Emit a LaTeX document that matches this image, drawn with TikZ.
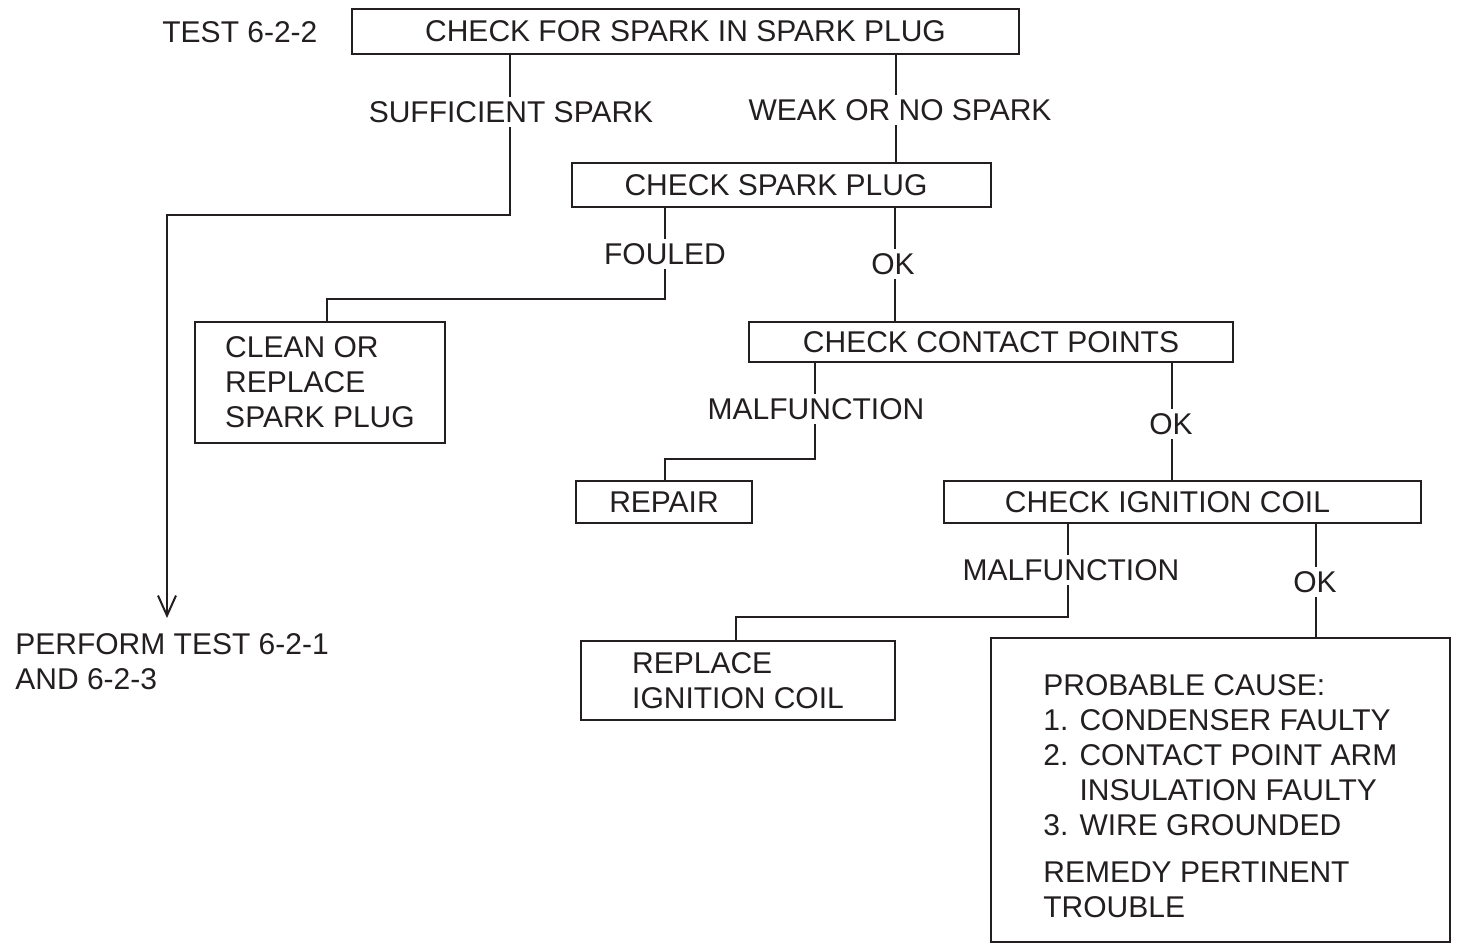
\documentclass[tikz,border=0pt]{standalone}
\usepackage{fontspec}
\setmainfont{Liberation Sans}
\usetikzlibrary{arrows.meta,calc}
\definecolor{ink}{HTML}{231F20}
\begin{document}
\begin{tikzpicture}[x=0.5pt,y=-0.5pt,
  every node/.style={font=\fontsize{15}{17.5}\selectfont, text=ink},
  box/.style={draw=ink, line width=1pt, inner sep=0pt, align=left},
  lbl/.style={fill=white, inner sep=2pt},
  conn/.style={draw=ink, line width=1pt},
  txt/.style={inner sep=0pt, align=left}]
\useasboundingbox[fill=white] (0,0) rectangle (1458,945);

% boxes
\node[box, minimum width=333.5pt, minimum height=22.5pt] (b1) at (685.5,31.5) {CHECK FOR SPARK IN SPARK PLUG};
\node[box, minimum width=209.5pt, minimum height=22pt] (b2) at (781.5,185) {CHECK SPARK PLUG\hspace{5.5pt}};
\node[box, minimum width=125pt, minimum height=60.5pt] (b3) at (320,382.5) {CLEAN OR\\REPLACE\\SPARK PLUG};
\node[box, minimum width=242pt, minimum height=20pt] (b4) at (991,342) {CHECK CONTACT POINTS};
\node[box, minimum width=88pt, minimum height=21pt] (b5) at (664,502) {REPAIR};
\node[box, minimum width=238.5pt, minimum height=21pt] (b6) at (1182.5,502) {CHECK IGNITION COIL\hspace{15pt}};
\node[box, minimum width=157pt, minimum height=39.5pt] (b7) at (738,680.5) {REPLACE\\IGNITION COIL};
\node[box, minimum width=229.5pt, minimum height=152pt] (b8) at (1220.5,790) {};
\node[txt, anchor=north west] (t8) at (1043,674) {PROBABLE CAUSE:\\
1. CONDENSER FAULTY\\
2. CONTACT POINT ARM\\
\phantom{2. }INSULATION FAULTY\\
3. WIRE GROUNDED\\[6pt]
REMEDY PERTINENT\\
TROUBLE};

% free texts
\node[txt, anchor=west] (test) at (162,32) {TEST 6-2-2};
\node[txt, anchor=north west] (perf) at (15,633) {PERFORM TEST 6-2-1\\AND 6-2-3};

% bend points
\coordinate (p1a) at (510,215);
\coordinate (p1b) at (167,215);
\coordinate (p1c) at (167,618);
\coordinate (p3a) at (665,299);
\coordinate (p3b) at (327,299);
\coordinate (p5a) at (815,459);
\coordinate (p5b) at (665,459);
\coordinate (p7a) at (1068,617);
\coordinate (p7b) at (736,617);

% connectors
\draw[conn, -{Straight Barb[length=10pt,width=9pt,line width=1pt]}] (b1.south -| p1a) -- (p1a) -- (p1b) -- (p1c);
\draw[conn] (b1.south -| 896,0) -- (b2.north -| 896,0);
\draw[conn] (b2.south -| p3a) -- (p3a) -- (p3b) -- (b3.north -| p3b);
\draw[conn] (b2.south -| 895,0) -- (b4.north -| 895,0);
\draw[conn] (b4.south -| p5a) -- (p5a) -- (p5b) -- (b5.north -| p5b);
\draw[conn] (b4.south -| 1172,0) -- (b6.north -| 1172,0);
\draw[conn] (b6.south -| p7a) -- (p7a) -- (p7b) -- (b7.north -| p7b);
\draw[conn] (b6.south -| 1316,0) -- (b8.north -| 1316,0);

% labels
\node[lbl] (l1) at (511,112) {SUFFICIENT SPARK};
\node[lbl] (l2) at (900,110) {WEAK OR NO SPARK};
\node[lbl] (l3) at (665,254) {FOULED};
\node[lbl] (l4) at (893,264) {OK};
\node[lbl] (l5) at (816,409) {MALFUNCTION};
\node[lbl] (l6) at (1171,424) {OK};
\node[lbl] (l7) at (1071,570) {MALFUNCTION};
\node[lbl] (l8) at (1315,582) {OK};
\end{tikzpicture}
\end{document}
